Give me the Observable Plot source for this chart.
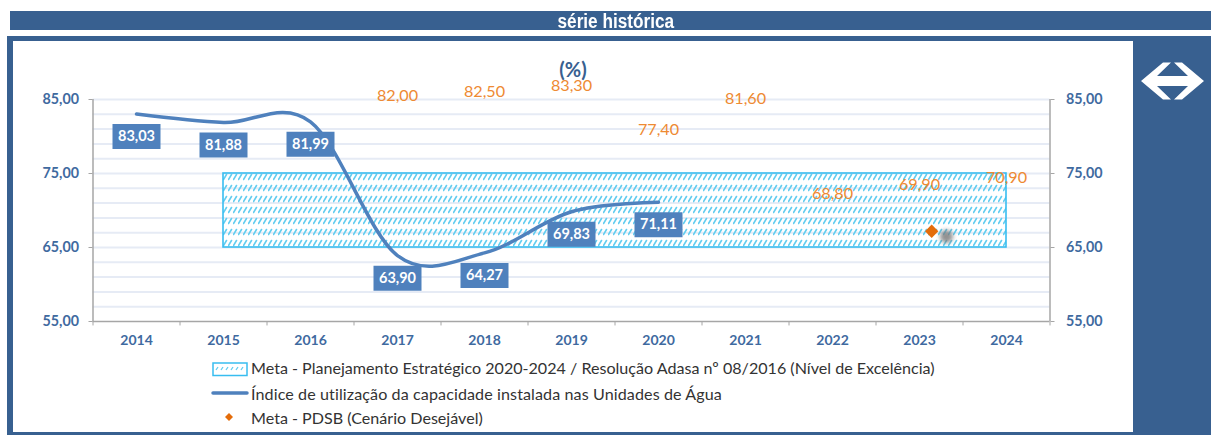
<!DOCTYPE html>
<html>
<head>
<meta charset="utf-8">
<script src="https://cdn.jsdelivr.net/npm/d3@7"></script>
<script src="https://cdn.jsdelivr.net/npm/@observablehq/plot@0.6"></script>
<style>
  html, body { margin: 0; padding: 0; background: #fff; width: 1211px; height: 435px; overflow: hidden; }
  .blue { position: absolute; background: #386090; }
  #titlebar { left: 10px; top: 11px; width: 1201px; height: 19px; color: #fff; text-align: center;
    font: bold 20px/20px "Liberation Sans", sans-serif; }
  #titlebar span { display: inline-block; position: relative; left: 5px; transform: scaleX(0.86); }
  #chart { position: absolute; left: 0; top: 0; }
  #pct { position: absolute; left: 533px; width: 80px; top: 60px; text-align: center; color: #386090;
    font: bold 20px/18px Lato, sans-serif; }
  .leg { position: absolute; left: 251px; color: #333; font: 16.1px/20px Lato, sans-serif; white-space: nowrap; }
</style>
</head>
<body>
<svg width="0" height="0" style="position:absolute">
  <defs>
    <pattern id="hatch" patternUnits="userSpaceOnUse" width="5" height="11" x="223" y="170">
      <path d="M0.5,9.5 L3.5,4.5" stroke="#62cdf0" stroke-width="1.6" stroke-linecap="round"/>
    </pattern>
  </defs>
</svg>
<div class="blue" id="titlebar"><span>série histórica</span></div>
<div class="blue" style="left:7px;top:36px;width:1204px;height:5px"></div>
<div class="blue" style="left:7px;top:36px;width:6px;height:399px"></div>
<div class="blue" style="left:1133px;top:36px;width:78px;height:399px"></div>
<div class="blue" style="left:7px;top:432px;width:1204px;height:3px"></div>
<svg width="1211" height="435" style="position:absolute;left:0;top:0">
  <path fill="#fff" d="M1141,81 L1163,62.5 L1171,62.5 L1157,76 L1188,76 L1174,62.5 L1182,62.5 L1204,81 L1182,99.5 L1174,99.5 L1188,86 L1157,86 L1171,99.5 L1163,99.5 Z"/>
</svg>
<div id="chart"></div>
<div id="pct">(%)</div>
<svg width="1211" height="435" style="position:absolute;left:0;top:0;pointer-events:none">
  <rect x="213" y="363" width="34" height="12.5" fill="#fff" stroke="#38bdf0" stroke-width="1.5"/>
  <path d="M216,370 l2,-3 M221,370 l2,-3 M226,370 l2,-3 M231,370 l2,-3 M236,370 l2,-3 M241,370 l2,-3" stroke="#62cdf0" stroke-width="1.3"/>
  <line x1="213" x2="247" y1="393" y2="393" stroke="#4f81bd" stroke-width="3.5" stroke-linecap="round"/>
  <path d="M229,413 l4,4 l-4,4 l-4,-4 Z" fill="#e46c0a"/>
</svg>
<div class="leg" style="top:358px">Meta - Planejamento Estratégico 2020-2024 / Resolução Adasa nº 08/2016 (Nível de Excelência)</div>
<div class="leg" style="top:384px;letter-spacing:0.1px">Índice de utilização da capacidade instalada nas Unidades de Água</div>
<div class="leg" style="top:408px">Meta - PDSB (Cenário Desejável)</div>
<script>
const years = [2014, 2015, 2016, 2017, 2018, 2019, 2020, 2021, 2022, 2023, 2024];
const indiceYears = [2014, 2015, 2016, 2017, 2018, 2019, 2020];
const indiceValues = [83.03, 81.88, 81.99, 63.90, 64.27, 69.83, 71.11];
const pdsbYears = [2017, 2018, 2019, 2020, 2021, 2022, 2023, 2024];
const pdsbValues = [82.00, 82.50, 83.30, 77.40, 81.60, 68.80, 69.90, 70.90];
const metaBand = [{x1: 2015, x2: 2024, y1: 65, y2: 75}];
const diamondX = [2023.14], diamondY = [67.2];
const shadowX = [2023.31], shadowY = [66.5];
const majorTicks = [55, 65, 75, 85];
const gridLevels = [57, 59, 61, 63, 65, 67, 69, 71, 73, 75, 77, 79, 81, 83, 85];
const xBoundaries = [2013.5, 2014.5, 2015.5, 2016.5, 2017.5, 2018.5, 2019.5, 2020.5, 2021.5, 2022.5, 2023.5, 2024.5];

const fmt = d => d.toFixed(2).replace(".", ",");
const axisBlue = "#3f6a9f", axisGrey = "#a6a6a6", orange = "#ee8a33", lineBlue = "#4f81bd";
const indice = indiceYears.map((x, i) => ({x, y: indiceValues[i]}));
const pdsb = pdsbYears.map((x, i) => ({x, y: pdsbValues[i]}));

const chart = Plot.plot({
  width: 1211, height: 360,
  marginLeft: 92.5, marginRight: 161.5, marginTop: 99, marginBottom: 39,
  style: {background: "transparent", fontFamily: "Lato, sans-serif", overflow: "visible"},
  x: {domain: [2013.5, 2024.5], label: null},
  y: {domain: [55, 85], label: null},
  marks: [
    Plot.ruleY(gridLevels, {stroke: "#e6ebf5", strokeWidth: 2}),
    Plot.rect(metaBand, {x1: "x1", x2: "x2", y1: "y1", y2: "y2", fill: "url(#hatch)", stroke: "#38bdf0", strokeWidth: 1.6}),
    Plot.ruleX([2013.5, 2024.5], {y1: 55, y2: 85, stroke: axisGrey, strokeWidth: 1.5}),
    Plot.ruleY([55], {stroke: axisGrey, strokeWidth: 1.5}),
    Plot.ruleX(xBoundaries, {y1: 55, y2: 54.4, stroke: axisGrey, strokeWidth: 1}),
    Plot.axisY({anchor: "left", ticks: majorTicks, tickFormat: fmt, tickSize: 4, tickPadding: 10, stroke: axisGrey, fill: axisBlue, fontSize: 14.3, fontWeight: "bold", label: null}),
    Plot.axisY({anchor: "right", ticks: majorTicks, tickFormat: fmt, tickSize: 4, tickPadding: 12, stroke: axisGrey, fill: axisBlue, fontSize: 14.3, fontWeight: "bold", label: null}),
    Plot.axisX({ticks: years, tickFormat: d => String(d), tickSize: 0, tickPadding: 14, fill: axisBlue, fontSize: 14, fontWeight: "bold", label: null}),
    Plot.line(indice, {x: "x", y: "y", curve: "cardinal", tension: 0, stroke: lineBlue, strokeWidth: 3.5}),
    Plot.dot(shadowX.map((x, i) => ({x, y: shadowY[i]})), {x: "x", y: "y", r: 6.5, fill: "#777", fillOpacity: 0.8, imageFilter: "blur(2px)"}),
    Plot.dot(diamondX.map((x, i) => ({x, y: diamondY[i]})), {x: "x", y: "y", symbol: "diamond2", r: 6, fill: "#e46c0a"}),
    Plot.text(pdsb, {x: "x", y: "y", dy: -26, text: d => fmt(d.y), fill: orange, fontSize: 16.2}),
    Plot.dot(indice, {x: "x", y: "y", dy: 22.5, symbol: {draw(c) { c.rect(-24, -12.5, 48, 25); }}, r: 1, fill: lineBlue, stroke: "none"}),
    Plot.text(indice, {x: "x", y: "y", dy: 22.5, text: d => fmt(d.y), fill: "#fff", fontSize: 14.5, fontWeight: "bold"})
  ]
});
document.getElementById("chart").appendChild(chart);
</script>
</body>
</html>
